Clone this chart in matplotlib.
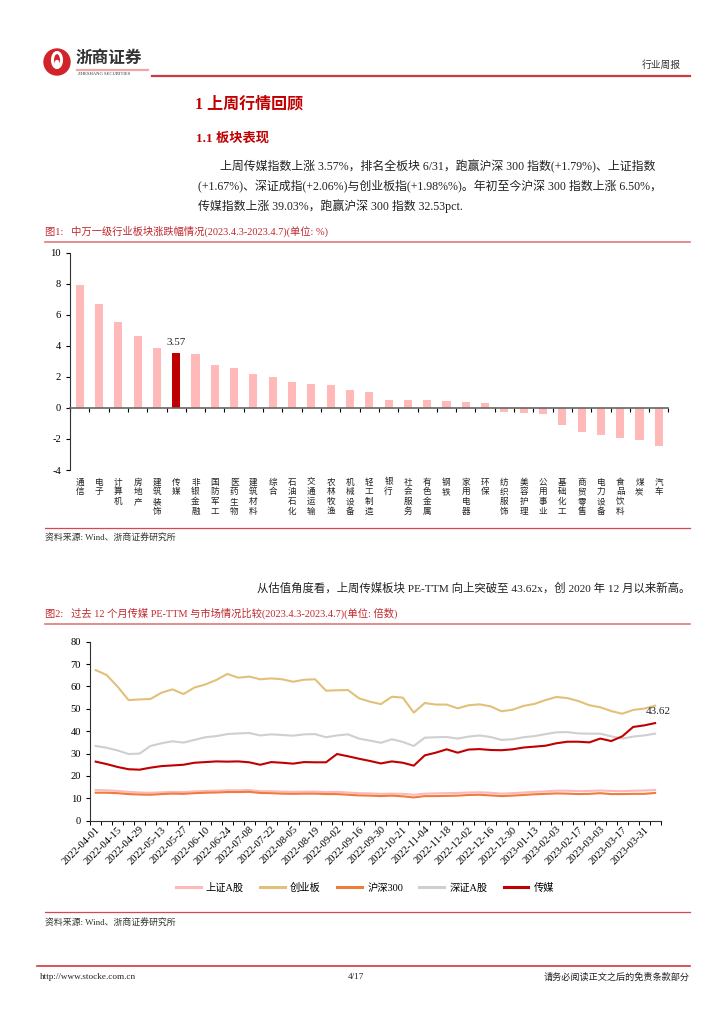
import numpy as np
import matplotlib
matplotlib.use("Agg")
import matplotlib.pyplot as plt
from matplotlib.patches import Circle, Ellipse
from matplotlib.lines import Line2D

#%% Figure settings
plt.rcParams['font.family'] = ['Liberation Serif', 'Noto Sans CJK SC', 'DejaVu Sans']
plt.rcParams['axes.unicode_minus'] = False

RED = '#C00000'
RULE = '#E07A7A'

#%% Data - figure 1 (sector weekly change, %)
sectors = ['通信', '电子', '计算机', '房地产', '建筑装饰', '传媒', '非银金融', '国防军工',
           '医药生物', '建筑材料', '综合', '石油石化', '交通运输', '农林牧渔', '机械设备',
           '轻工制造', '银行', '社会服务', '有色金属', '钢铁', '家用电器', '环保',
           '纺织服饰', '美容护理', '公用事业', '基础化工', '商贸零售', '电力设备',
           '食品饮料', '煤炭', '汽车']
sector_chg = [7.95, 6.68, 5.53, 4.62, 3.86, 3.57, 3.46, 2.79, 2.55, 2.16, 1.96, 1.66,
              1.51, 1.45, 1.14, 1.00, 0.54, 0.52, 0.52, 0.43, 0.37, 0.30,
              -0.26, -0.34, -0.39, -1.10, -1.52, -1.76, -1.93, -2.04, -2.43]

#%% Data - figure 2 (PE-TTM, weekly)
dates = ['2022-04-01', '2022-04-08', '2022-04-15', '2022-04-22', '2022-04-29', '2022-05-06',
         '2022-05-13', '2022-05-20', '2022-05-27', '2022-06-02', '2022-06-10', '2022-06-17',
         '2022-06-24', '2022-07-01', '2022-07-08', '2022-07-15', '2022-07-22', '2022-07-29',
         '2022-08-05', '2022-08-12', '2022-08-19', '2022-08-26', '2022-09-02', '2022-09-09',
         '2022-09-16', '2022-09-23', '2022-09-30', '2022-10-14', '2022-10-21', '2022-10-28',
         '2022-11-04', '2022-11-11', '2022-11-18', '2022-11-25', '2022-12-02', '2022-12-09',
         '2022-12-16', '2022-12-23', '2022-12-30', '2023-01-06', '2023-01-13', '2023-01-20',
         '2023-02-03', '2023-02-10', '2023-02-17', '2023-02-24', '2023-03-03', '2023-03-10',
         '2023-03-17', '2023-03-24', '2023-03-31', '2023-04-07']
sh_a = [13.7, 13.6, 13.3, 12.9, 12.6, 12.5, 12.7, 12.9, 12.8, 13.1, 13.3, 13.4, 13.6,
        13.6, 13.7, 13.2, 13.2, 13.0, 12.9, 13.0, 13.0, 12.8, 12.9, 12.6, 12.3, 12.2,
        12.0, 12.1, 12.0, 11.6, 12.1, 12.2, 12.3, 12.4, 12.6, 12.7, 12.5, 12.1, 12.3,
        12.6, 12.9, 13.1, 13.4, 13.4, 13.2, 13.3, 13.5, 13.3, 13.2, 13.4, 13.5, 13.7]
cyb = [67.3, 65.1, 59.9, 53.9, 54.2, 54.4, 57.2, 58.7, 56.6, 59.5, 60.9, 62.9, 65.6,
       63.9, 64.4, 63.2, 63.6, 63.2, 62.1, 63.0, 63.2, 58.1, 58.3, 58.4, 54.7, 53.2,
       52.1, 55.4, 55.0, 48.3, 52.6, 51.9, 51.9, 50.2, 51.6, 52.0, 51.1, 48.9, 49.6,
       51.3, 52.2, 53.9, 55.3, 54.8, 53.5, 51.6, 50.7, 49.0, 47.8, 49.5, 50.1, 51.4]
hs300 = [12.5, 12.5, 12.3, 11.9, 11.7, 11.6, 11.9, 12.1, 12.0, 12.3, 12.5, 12.6, 12.8,
         12.8, 12.9, 12.4, 12.3, 12.1, 12.0, 12.1, 12.1, 11.9, 11.9, 11.6, 11.3, 11.2,
         11.0, 11.2, 10.9, 10.4, 11.0, 11.0, 11.1, 11.2, 11.5, 11.6, 11.3, 11.0, 11.2,
         11.5, 11.8, 12.0, 12.2, 12.1, 11.9, 12.0, 12.3, 11.9, 11.9, 12.0, 12.0, 12.4]
sz_a = [33.4, 32.6, 31.4, 29.8, 30.0, 33.4, 34.6, 35.5, 34.9, 36.1, 37.3, 37.8, 38.7,
        39.0, 39.2, 38.1, 38.6, 38.3, 38.0, 38.6, 38.7, 37.3, 38.1, 38.6, 36.7, 35.8,
        34.8, 36.4, 35.2, 33.4, 37.1, 37.3, 37.4, 36.7, 37.6, 38.1, 37.4, 36.1, 36.4,
        37.3, 37.8, 38.7, 39.5, 39.6, 39.0, 38.9, 38.9, 37.7, 36.7, 37.6, 38.1, 38.9]
media = [26.4, 25.3, 24.0, 23.0, 22.8, 23.7, 24.4, 24.7, 25.0, 25.9, 26.2, 26.5, 26.4,
         26.5, 26.1, 25.0, 26.2, 25.9, 25.5, 26.2, 26.1, 26.1, 29.8, 28.8, 27.7, 26.7,
         25.6, 26.5, 25.9, 24.6, 29.2, 30.4, 31.9, 30.4, 31.8, 32.0, 31.6, 31.5, 31.9,
         32.7, 33.1, 33.5, 34.6, 35.3, 35.3, 35.0, 36.7, 35.6, 37.7, 41.9, 42.6, 43.62]
series_names = ['上证A股', '创业板', '沪深300', '深证A股', '传媒']
series_colors = ['#FFB8B8', '#E3C07A', '#EE7D3C', '#CFCFCF', '#C00000']

#%% Page
W, H = 724, 1024
fig = plt.figure(figsize=(W / 100, H / 100), dpi=100)
pg = fig.add_axes([0, 0, 1, 1])
pg.set_xlim(0, W)
pg.set_ylim(H, 0)
pg.axis('off')

# header
pg.add_patch(Circle((57, 62), 13, color='#D2232A'))
pg.add_patch(Ellipse((57, 60), 9, 15, fill=False, ec='white', lw=2.2))
pg.add_patch(Ellipse((57, 64), 4, 7, color='white'))
pg.text(76, 59, '浙商证券', fontsize=12, fontweight='bold', color='#333333', va='center')
pg.plot([77, 148], [69.5, 69.5], color='#F2A5A5', lw=1.6)
pg.text(78, 74, 'ZHESHANG SECURITIES', fontsize=3.3, color='#333333', va='center')
pg.plot([152, 690], [75.5, 75.5], color='#CC3A40', lw=1.6)
pg.text(681, 65, '行业周报', fontsize=7, color='#333333', ha='right', va='center')

# headings and body text
pg.text(195, 104, '1 上周行情回顾', fontsize=11.5, fontweight='bold', color=RED, va='center')
pg.text(196, 139, '1.1 板块表现', fontsize=9.5, fontweight='bold', color=RED, va='center')
body = ['上周传媒指数上涨 3.57%，排名全板块 6/31，跑赢沪深 300 指数(+1.79%)、上证指数',
        '(+1.67%)、深证成指(+2.06%)与创业板指(+1.98%%)。年初至今沪深 300 指数上涨 6.50%，',
        '传媒指数上涨 39.03%，跑赢沪深 300 指数 32.53pct.']
for k, (line, x0) in enumerate(zip(body, [220, 198, 198])):
    pg.text(x0, 167 + k * 19.5, line, fontsize=8.6, color='#222222', va='center')

# figure 1 caption + rules
pg.text(45, 231, '图1:   中万一级行业板块涨跌幅情况(2023.4.3-2023.4.7)(单位: %)',
        fontsize=7.4, color='#C0282E', va='center')
pg.plot([45, 690], [241.5, 241.5], color=RULE, lw=1.2)
pg.plot([45, 690], [528, 528], color='#D9474D', lw=0.9)
pg.text(45, 538, '资料来源: Wind、浙商证券研究所', fontsize=6.4, color='#333333', va='center')

# text between charts
pg.text(690, 588, '从估值角度看，上周传媒板块 PE-TTM 向上突破至 43.62x，创 2020 年 12 月以来新高。',
        fontsize=8.2, color='#222222', ha='right', va='center')
pg.text(45, 613, '图2:   过去 12 个月传媒 PE-TTM 与市场情况比较(2023.4.3-2023.4.7)(单位: 倍数)',
        fontsize=7.4, color='#C0282E', va='center')
pg.plot([45, 690], [624, 624], color=RULE, lw=1.2)
pg.plot([45, 690], [912, 912], color='#D9474D', lw=0.9)
pg.text(45, 923, '资料来源: Wind、浙商证券研究所', fontsize=6.4, color='#333333', va='center')

# footer
pg.plot([37, 690], [966, 966], color='#CC3A40', lw=1.2)
pg.text(40, 977, 'http://www.stocke.com.cn', fontsize=6.6, color='#222222', va='center')
pg.text(356, 977, '4/17', fontsize=6.6, color='#222222', ha='center', va='center')
pg.text(690, 977, '请务必阅读正文之后的免责条款部分', fontsize=6.6, color='#222222',
        ha='right', va='center')

#%% Figure 1 - bar chart
ax1 = fig.add_axes([70 / W, 1 - 470 / H, 598.5 / W, 217.3 / H])
ax1.patch.set_alpha(0)
x = np.arange(len(sectors))
bar_cols = [RED if s == '传媒' else '#FFB9B9' for s in sectors]
ax1.bar(x, sector_chg, width=0.42, color=bar_cols, zorder=2)
ax1.set_xlim(-0.5, len(sectors) - 0.5)
ax1.set_ylim(-4, 10)
ax1.set_yticks(np.arange(-4, 11, 2))
ax1.tick_params(axis='y', labelsize=7.6, length=3, direction='out', width=0.8)
ax1.spines['bottom'].set_position(('data', 0))
ax1.spines['bottom'].set_color('#666666')
ax1.spines['bottom'].set_linewidth(1.2)
ax1.spines['left'].set_color('#333333')
ax1.spines['left'].set_linewidth(0.8)
for s in ['top', 'right']:
    ax1.spines[s].set_visible(False)
ax1.set_xticks(np.arange(-0.5, len(sectors), 1))
ax1.tick_params(axis='x', length=3, direction='out', labelbottom=False, width=0.8)
for i, name in enumerate(sectors):
    ax1.text(i, -0.035, '\n'.join(name), transform=ax1.get_xaxis_transform(),
             ha='center', va='top', multialignment='center', fontsize=6.2,
             linespacing=1.1, color='#222222', family='Noto Sans CJK SC')
i_media = sectors.index('传媒')
ax1.text(i_media, sector_chg[i_media] + 0.35, f'{sector_chg[i_media]:.2f}', ha='center',
         va='bottom', fontsize=8, color='#222222')

#%% Figure 2 - line chart
ax2 = fig.add_axes([90.2 / W, 1 - 820.7 / H, 570.4 / W, 179 / H])
ax2.patch.set_alpha(0)
xi = np.arange(len(dates))
for vals, name, col in zip([sh_a, cyb, hs300, sz_a, media], series_names, series_colors):
    ax2.plot(xi, vals, color=col, lw=1.5, label=name)
ax2.set_xlim(-0.5, len(dates) - 0.5)
ax2.set_ylim(0, 80)
ax2.set_yticks(np.arange(0, 81, 10))
ax2.tick_params(axis='y', labelsize=7.6, length=3, width=0.8)
for s in ['top', 'right']:
    ax2.spines[s].set_visible(False)
for s in ['left', 'bottom']:
    ax2.spines[s].set_color('#333333')
    ax2.spines[s].set_linewidth(0.8)
ax2.set_xticks(np.arange(-0.5, len(dates), 1))
ax2.tick_params(axis='x', which='major', length=3, width=0.7, labelbottom=False)
lab_idx = list(range(0, len(dates) - 1, 2))
ax2.set_xticks(lab_idx, minor=True)
ax2.set_xticklabels([dates[i] for i in lab_idx], minor=True, rotation=45, ha='right',
                    rotation_mode='anchor', fontsize=7.6)
ax2.tick_params(axis='x', which='minor', length=0, pad=3)
ax2.annotate(f'{media[-1]:.2f}', (xi[-1], media[-1]), xytext=(2, 5), textcoords='offset points',
             ha='center', va='bottom', fontsize=8, color='#222222')

handles = [Line2D([], [], color=c, lw=2.2) for c in series_colors]
fig.legend(handles, series_names, loc='center', bbox_to_anchor=(365 / W, 1 - 888 / H),
           ncol=5, frameon=False, fontsize=7.4, handlelength=2.4, columnspacing=1.6,
           handletextpad=0.5)

fig.savefig('out.png', dpi=100)
